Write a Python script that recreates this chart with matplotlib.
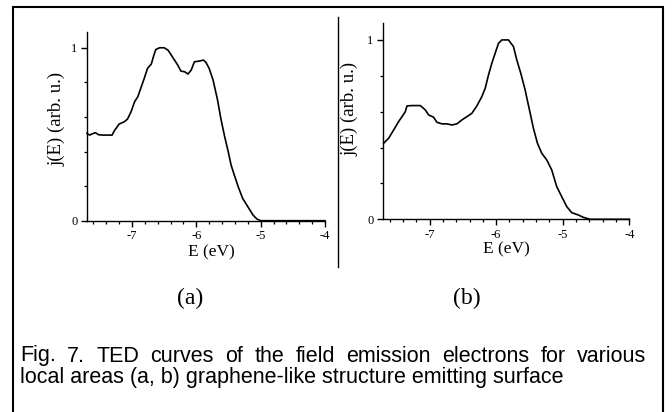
import matplotlib
matplotlib.use("Agg")
import matplotlib.pyplot as plt
from matplotlib.patches import Rectangle
from matplotlib.lines import Line2D
from matplotlib.ticker import MultipleLocator

# TED curve (a)
energy_a = [-7.70, -7.66, -7.62, -7.57, -7.52, -7.45, -7.40, -7.31, -7.275, -7.20, -7.12,
            -7.07, -7.015, -6.96, -6.91, -6.86, -6.81, -6.76, -6.70, -6.66, -6.63, -6.57,
            -6.50, -6.44, -6.39, -6.34, -6.29, -6.24, -6.18, -6.13, -6.08, -6.03, -5.95,
            -5.89, -5.85, -5.80, -5.74, -5.67, -5.62, -5.56, -5.51, -5.46, -5.41, -5.35,
            -5.28, -5.20, -5.12, -5.06, -5.00, -4.50, -4.00]
ted_a = [0.505, 0.495, 0.502, 0.509, 0.497, 0.495, 0.495, 0.495, 0.52, 0.559, 0.572,
         0.588, 0.63, 0.688, 0.717, 0.77, 0.823, 0.88, 0.906, 0.958, 0.99, 1.0,
         1.0, 0.986, 0.958, 0.929, 0.90, 0.865, 0.861, 0.848, 0.871, 0.919, 0.923,
         0.929, 0.915, 0.88, 0.813, 0.697, 0.592, 0.486, 0.408, 0.322, 0.264, 0.197,
         0.129, 0.081, 0.033, 0.01, 0.0, 0.0, 0.0]

# TED curve (b)
energy_b = [-7.69, -7.615, -7.54, -7.465, -7.415, -7.365, -7.34, -7.265, -7.14, -7.065,
            -7.015, -6.94, -6.89, -6.815, -6.74, -6.665, -6.59, -6.515, -6.44, -6.365,
            -6.29, -6.215, -6.165, -6.115, -6.065, -6.015, -5.965, -5.915, -5.815, -5.74,
            -5.69, -5.63, -5.565, -5.50, -5.44, -5.38, -5.315, -5.24, -5.165, -5.09,
            -5.015, -4.94, -4.865, -4.765, -4.69, -4.59, -4.30, -4.00]
ted_b = [0.424, 0.452, 0.498, 0.545, 0.572, 0.60, 0.632, 0.634, 0.634, 0.61,
         0.582, 0.569, 0.541, 0.532, 0.532, 0.526, 0.532, 0.554, 0.572, 0.591,
         0.632, 0.684, 0.73, 0.805, 0.87, 0.926, 0.981, 1.0, 1.0, 0.963,
         0.888, 0.814, 0.721, 0.61, 0.507, 0.424, 0.368, 0.331, 0.275, 0.182,
         0.126, 0.071, 0.037, 0.024, 0.011, 0.0, 0.0, 0.0]

x_ticks = [-7, -6, -5, -4]
y_ticks = [0, 1]
panel_labels = ["(a)", "(b)"]
caption_line1 = "Fig. 7. TED curves of the field emission electrons for various"
caption_line2 = "local areas (a, b) graphene-like structure emitting surface"

W, H = 672, 412
SERIF = ["Liberation Serif", "DejaVu Serif"]
SANS = ["Liberation Sans", "DejaVu Sans"]

fig = plt.figure(figsize=(W / 100, H / 100), dpi=100)


def fx(x):
    return x / W


def fy(y):
    return 1 - y / H


def make_axes(left, top, right, bottom, ytop):
    ax = fig.add_axes([fx(left), fy(bottom), (right - left) / W, (bottom - top) / H])
    ax.set_xlim(-7.7, -4)
    ax.set_ylim(0, ytop)
    for side in ["top", "right"]:
        ax.spines[side].set_visible(False)
    for side in ["left", "bottom"]:
        ax.spines[side].set_linewidth(1.0)
    ax.set_xticks(x_ticks)
    ax.set_xticklabels([str(t) for t in x_ticks], family=SERIF, fontsize=9)
    ax.set_yticks(y_ticks)
    ax.set_yticklabels([str(t) for t in y_ticks], family=SERIF, fontsize=9)
    ax.xaxis.set_minor_locator(MultipleLocator(0.2))
    ax.yaxis.set_minor_locator(MultipleLocator(0.2))
    ax.tick_params(which="major", direction="out", length=4, width=1.0, pad=3)
    ax.tick_params(which="minor", direction="out", length=2.5, width=0.9)
    ax.patch.set_alpha(0)
    return ax


ax_a = make_axes(87, 31.5, 325, 220.7, 1.094)
ax_a.plot(energy_a, ted_a, color="black", lw=1.2, clip_on=False)
ax_a.set_xlabel("E (eV)", family=SERIF, fontsize=12.5, va="center")
ax_a.xaxis.set_label_coords(0.524, -0.165)
ax_a.set_ylabel("j(E) (arb. u.)", family=SERIF, fontsize=13.5, va="center")
ax_a.yaxis.set_label_coords(-0.126, 0.54)

ax_b = make_axes(383, 22.7, 629.3, 219.3, 1.096)
ax_b.plot(energy_b, ted_b, color="black", lw=1.2, clip_on=False)
ax_b.set_xlabel("E (eV)", family=SERIF, fontsize=12.5, va="center")
ax_b.xaxis.set_label_coords(0.502, -0.155)
ax_b.set_ylabel("j(E) (arb. u.)", family=SERIF, fontsize=13.5, va="center")
ax_b.yaxis.set_label_coords(-0.134, 0.56)

# outer frame (bottom edge runs off the image) and the divider between panels
fig.patches.append(Rectangle((fx(12.5), -0.05), (662.7 - 12.5) / W, fy(6.5) + 0.05,
                             transform=fig.transFigure, fill=False, lw=1.5,
                             edgecolor="black"))
fig.lines.append(Line2D([fx(337.5), fx(337.5)], [fy(17), fy(267)],
                        transform=fig.transFigure, color="black", lw=1.0))

fig.text(fx(190), fy(298), panel_labels[0], family=SERIF, fontsize=17,
         ha="center", va="center")
fig.text(fx(467), fy(298), panel_labels[1], family=SERIF, fontsize=17,
         ha="center", va="center")

# caption: first line justified between the margins, second line left aligned
cap_left, cap_right = 20, 646
words = caption_line1.split()
word_texts = [fig.text(0, fy(356), w, family=SANS, fontsize=15.5, va="center")
              for w in words]
fig.canvas.draw()
renderer = fig.canvas.get_renderer()
widths = [t.get_window_extent(renderer).width for t in word_texts]
gap = (cap_right - cap_left - sum(widths)) / (len(words) - 1)
pos = cap_left
for t, w in zip(word_texts, widths):
    t.set_x(fx(pos))
    pos += w + gap
fig.text(fx(cap_left), fy(377), caption_line2, family=SANS, fontsize=15.5, va="center")

fig.savefig("out.png", dpi=100)
